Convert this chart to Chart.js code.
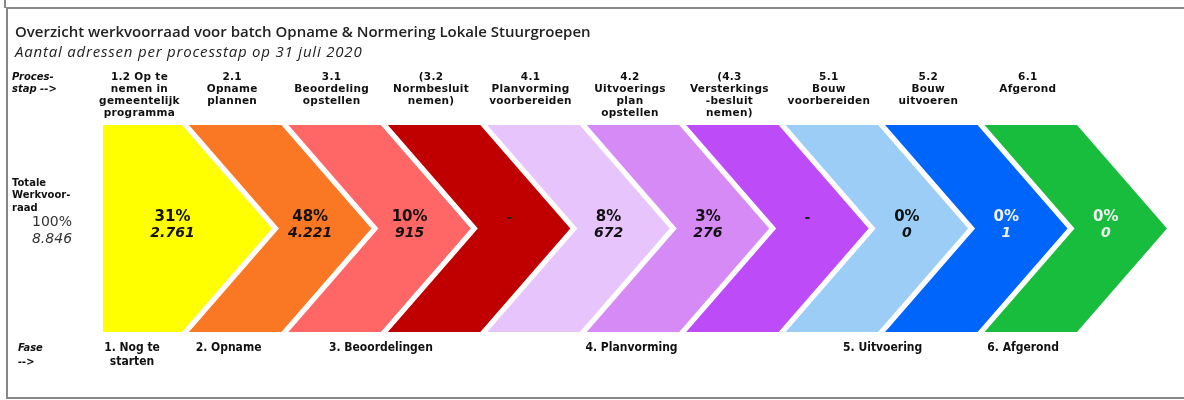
<!DOCTYPE html>
<html lang="nl">
<head>
  <meta charset="UTF-8">
  <title>Overzicht werkvoorraad</title>
  <script src="https://cdn.jsdelivr.net/npm/chart.js"></script>
  <style>
    body { margin: 0; background: white; }
    canvas { display: block; }
  </style>
</head>
<body>
  <canvas id="werkvoorraad" width="1184" height="400"></canvas>

  <script>
    // Processtappen (kop boven de pijlen)
    const stappen = [
      ["1.2 Op te", "nemen in", "gemeentelijk", "programma"],
      ["2.1", "Opname", "plannen"],
      ["3.1", "Beoordeling", "opstellen"],
      ["(3.2", "Normbesluit", "nemen)"],
      ["4.1", "Planvorming", "voorbereiden"],
      ["4.2", "Uitvoerings", "plan", "opstellen"],
      ["(4.3", "Versterkings", "-besluit", "nemen)"],
      ["5.1", "Bouw", "voorbereiden"],
      ["5.2", "Bouw", "uitvoeren"],
      ["6.1", "Afgerond"]
    ];
    const percentages = [31, 48, 10, null, 8, 3, null, 0, 0, 0];
    const aantallen = [2761, 4221, 915, null, 672, 276, null, 0, 1, 0];
    const stapHoogte = [1, 1, 1, 1, 1, 1, 1, 1, 1, 1];
    const totaal = 8846;
    const kleuren = ["#ffff00", "#fa7824", "#ff6666", "#c00000", "#e8c4fc",
                     "#d58af6", "#bd4cf8", "#9bcdf6", "#0065fa", "#18bd3e"];
    const tekstKleuren = ["#111", "#111", "#111", "#222", "#111",
                          "#111", "#222", "#111", "#f2f2f2", "#f2f2f2"];

    // Fases onderaan, met de positie (in stap-eenheden) waar het label begint
    const fases = [["1. Nog te", "starten"], ["2. Opname"], ["3. Beoordelingen"],
                   ["4. Planvorming"], ["5. Uitvoering"], ["6. Afgerond"]];
    const faseStart = [-0.77, 0.15, 1.49, 4.07, 6.66, 8.11];

    function nl(n) {
      return String(n).replace(/\B(?=(\d{3})+(?!\d))/g, ".");
    }

    const DIEPTE = 90, GAT = 7;

    const pijlen = {
      id: 'pijlen',
      afterDatasetsDraw(chart) {
        const ctx = chart.ctx;
        const meta = chart.getDatasetMeta(0);
        const xs = chart.scales.x;
        ctx.save();

        // kader
        ctx.strokeStyle = "#888";
        ctx.lineWidth = 2;
        ctx.beginPath();
        ctx.moveTo(1184, 8); ctx.lineTo(7, 8); ctx.lineTo(7, 398); ctx.lineTo(1184, 398);
        ctx.stroke();
        ctx.beginPath(); ctx.moveTo(5, 0); ctx.lineTo(5, 8); ctx.stroke();

        // titels
        ctx.fillStyle = "#222";
        ctx.textBaseline = "middle";
        ctx.textAlign = "left";
        ctx.font = "600 15px 'Open Sans'";
        ctx.fillText("Overzicht werkvoorraad voor batch Opname & Normering Lokale Stuurgroepen", 15, 33);
        ctx.font = "italic 15px 'Open Sans'";
        ctx.letterSpacing = "0.8px";
        ctx.fillText("Aantal adressen per processtap op 31 juli 2020", 15, 53);
        ctx.letterSpacing = "0px";

        ctx.fillStyle = "#111";
        ctx.font = "italic bold 10px 'DejaVu Sans'";
        ctx.fillText("Proces-", 12, 77);
        ctx.fillText("stap -->", 12, 89);
        ctx.font = "bold 10px 'DejaVu Sans'";
        ["Totale", "Werkvoor-", "raad"].forEach((t, k) => ctx.fillText(t, 12, 183 + k * 12.5));
        ctx.fillStyle = "#333";
        ctx.textAlign = "center";
        ctx.font = "14px 'DejaVu Sans'";
        ctx.fillText("100%", 52, 222);
        ctx.font = "italic 14px 'DejaVu Sans'";
        ctx.fillText(nl(totaal), 52, 239);

        meta.data.forEach((bar, i) => {
          const xl = bar.x - bar.width / 2, xr = bar.x + bar.width / 2;
          const top = bar.y, bot = bar.base, mid = (top + bot) / 2;
          const links = i === 0 ? xl - 28 : xl - DIEPTE / 2 + GAT / 2;
          const rechts = xr - DIEPTE / 2 - GAT / 2;
          const punt = xr + DIEPTE / 2 - GAT / 2;
          const inkeping = i === 0 ? links : xl + DIEPTE / 2 + GAT / 2;

          ctx.fillStyle = kleuren[i];
          ctx.beginPath();
          ctx.moveTo(links, top);
          ctx.lineTo(rechts, top);
          ctx.lineTo(punt, mid);
          ctx.lineTo(rechts, bot);
          ctx.lineTo(links, bot);
          ctx.lineTo(inkeping, mid);
          ctx.closePath();
          ctx.fill();

          // waarden
          const tx = (inkeping + punt) / 2 - 15;
          ctx.fillStyle = tekstKleuren[i];
          ctx.textAlign = "center";
          if (percentages[i] === null) {
            ctx.font = "bold 14px 'DejaVu Sans'";
            ctx.fillText("-", tx, mid - 10);
          } else {
            ctx.font = "bold 15px 'DejaVu Sans'";
            ctx.fillText(percentages[i] + "%", tx, mid - 11);
            ctx.font = "italic bold 14px 'DejaVu Sans'";
            ctx.fillText(nl(aantallen[i]), tx, mid + 5);
          }

          // kop
          const kx = (links + rechts) / 2 - 3;
          ctx.fillStyle = "#111";
          ctx.font = "bold 10.5px 'DejaVu Sans'";
          ctx.letterSpacing = "0.3px";
          stappen[i].forEach((t, k) => ctx.fillText(t, kx, 77 + k * 12));
          ctx.letterSpacing = "0px";
        });

        // fases
        ctx.fillStyle = "#111";
        ctx.font = "italic bold 11px 'DejaVu Sans Condensed'";
        ctx.textAlign = "left";
        ctx.fillText("Fase", 18, 348);
        ctx.fillText("-->", 18, 362);
        ctx.font = "bold 12px 'DejaVu Sans Condensed'";
        fases.forEach((regels, j) => {
          const x = xs.getPixelForValue(faseStart[j]);
          const breed = Math.max(...regels.map(r => ctx.measureText(r).width));
          regels.forEach((r, k) => {
            const w = ctx.measureText(r).width;
            ctx.fillText(r, x + (breed - w) / 2, 348 + k * 14);
          });
        });
        ctx.restore();
      }
    };

    new Chart(document.getElementById("werkvoorraad"), {
      type: 'bar',
      data: {
        labels: stappen.map(s => s[0]),
        datasets: [{
          data: stapHoogte,
          backgroundColor: 'rgba(0,0,0,0)',
          barPercentage: 1,
          categoryPercentage: 1
        }]
      },
      options: {
        responsive: false,
        animation: false,
        layout: { padding: { left: 131, right: 58.5, top: 125, bottom: 68 } },
        scales: {
          x: { display: false },
          y: { display: false, min: 0, max: 1 }
        },
        plugins: {
          legend: { display: false },
          tooltip: { enabled: false }
        }
      },
      plugins: [pijlen]
    });
  </script>
</body>
</html>
